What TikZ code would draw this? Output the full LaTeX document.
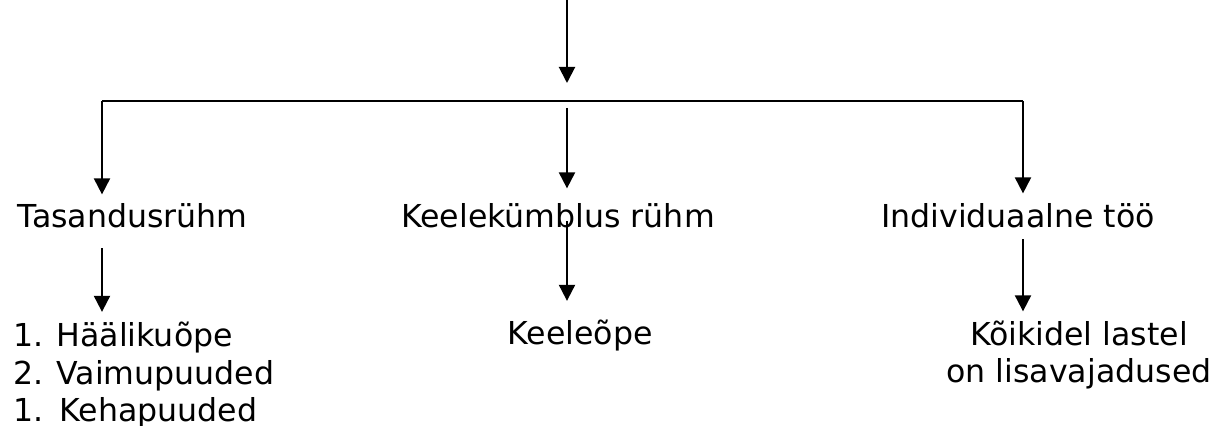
\documentclass[tikz,border=0pt]{standalone}
\usepackage{fontspec}
\setmainfont{DejaVu Sans}
\usetikzlibrary{arrows.meta}

\begin{document}
\begin{tikzpicture}[x=0.5pt,y=-0.5pt,line width=1pt,
  every node/.style={inner sep=0pt,font=\fontsize{15.8}{18.75}\selectfont},
  arr/.style={-{Triangle[length=8pt,width=8pt]}}]
\useasboundingbox (0,0) rectangle (1216,426);
% groups
\node[anchor=base west] (tasandus) at (17,228) {Tasandusrühm};
\node[anchor=base] (kymblus) at (558,228) {Keelekümblus rühm};
\node[anchor=base] (individ) at (1018,228) {Individuaalne töö};
% contents (base = last line)
\node[anchor=base west,align=left] (puuded) at (12,422) {1. Häälikuõpe\\2. Vaimupuuded\\1.\hspace{1.5pt} Kehapuuded};
\node[anchor=base] (keeleope) at (580,345) {Keeleõpe};
\node[anchor=base,align=center] (lisa) at (1079,383) {Kõikidel lastel\\on lisavajadused};
% connectors
\coordinate (top) at (567,0);
\coordinate (jn) at (567,101);
\coordinate (hl) at (102,101);
\coordinate (hr) at (1023,101);
\draw[arr,shorten >=9pt] (top) -- (jn);
\draw (hl) -- (hr);
\draw[arr,shorten >=4.3pt] (hl) -- (tasandus.north -| hl);
\draw[arr,shorten >=7.3pt] ([yshift=-3.5pt]jn) -- (kymblus.north -| jn);
\draw[arr,shorten >=4.8pt] (hr) -- (individ.north -| hr);
\draw[arr,shorten <=9.5pt,shorten >=4.8pt] (tasandus.south -| hl) -- (puuded.north -| hl);
\draw[arr,shorten >=9.3pt] ([yshift=4pt]kymblus.south -| jn) -- (keeleope.north -| jn);
\draw[arr,shorten <=5pt,shorten >=4.3pt] (individ.south -| hr) -- (lisa.north -| hr);
\end{tikzpicture}
\end{document}
